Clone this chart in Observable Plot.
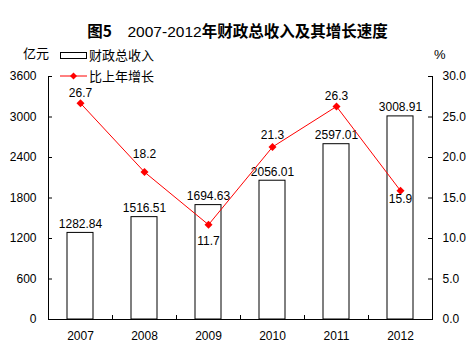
<!DOCTYPE html>
<html><head><meta charset="utf-8">
<script src="https://cdn.jsdelivr.net/npm/d3@7"></script>
<script src="https://cdn.jsdelivr.net/npm/@observablehq/plot@0.6"></script>
<style>
body{margin:0;background:#fff;}
#wrap{position:relative;width:475px;height:356px;font-family:"Liberation Sans","Noto Sans CJK SC",sans-serif;color:#000;overflow:hidden;background:#fff;}
.abs{position:absolute;white-space:nowrap;z-index:2;}
#title{left:0;width:475px;top:21px;text-align:center;font-size:15.5px;line-height:18px;}
#title b{font-family:"Noto Sans CJK SC",sans-serif;font-weight:bold;}
#chart{position:absolute;left:0;top:44px;z-index:1;}
.lg{font-size:13px;line-height:18px;font-family:"Noto Sans CJK SC",sans-serif;}
</style></head>
<body>
<div id="wrap">
  <div id="chart"></div>
  <div id="title" class="abs"><b>图5</b>　2007-2012<b>年财政总收入及其增长速度</b></div>
  <div class="abs lg" style="left:23px;top:44px;">亿元</div>
  <div class="abs lg" style="left:434px;top:46px;font-family:'Liberation Sans',sans-serif;">%</div>
  <div class="abs" style="left:60px;top:52px;width:27px;height:7px;border:1px solid #000;box-sizing:border-box;background:#fff;"></div>
  <div class="abs lg" style="left:89px;top:46px;">财政总收入</div>
  <svg class="abs" style="left:60px;top:71px;" width="28" height="10"><line x1="0" x2="27" y1="5" y2="5" stroke="#ff0000"/><path d="M13.5,1.5L17,5L13.5,8.5L10,5Z" fill="#ff0000"/></svg>
  <div class="abs lg" style="left:89px;top:67px;">比上年增长</div>
</div>
<script>
const years = ["2007","2008","2009","2010","2011","2012"];
const revenue = [1282.84, 1516.51, 1694.63, 2056.01, 2597.01, 3008.91];
const growth = [26.7, 18.2, 11.7, 21.3, 26.3, 15.9];
const leftTicks = [0, 600, 1200, 1800, 2400, 3000, 3600];
const rightTicks = [0, 5, 10, 15, 20, 25, 30];

const W = 475, H = 312, mL = 48, mR = 43, mT = 32, mB = 37;
const innerW = W - mL - mR, innerH = H - mT - mB;
const step = innerW / years.length;
const k = 3600 / 30; // percent -> left-axis units
const data = years.map((y, i) => ({year: y, rev: revenue[i], pct: growth[i]}));
const lineLabelDy = {"2007": -10, "2008": -18, "2009": 16, "2010": -12, "2011": -10, "2012": 8};

const chart = Plot.plot({
  width: W, height: H,
  marginLeft: mL, marginRight: mR, marginTop: mT, marginBottom: mB,
  style: {fontFamily: "'Liberation Sans', 'Noto Sans CJK SC', sans-serif", fontSize: "12px", color: "#000", background: "transparent"},
  x: {domain: years, paddingInner: 0.6, paddingOuter: 0.3},
  y: {domain: [0, 3600]},
  marks: [
    Plot.barY(data, {x: "year", y: "rev", fill: "#fff", stroke: "#000", strokeWidth: 1}),
    Plot.frame({anchor: "left", stroke: "#000"}),
    Plot.frame({anchor: "right", stroke: "#000"}),
    Plot.ruleY([0], {stroke: "#000"}),
    Plot.tickY(leftTicks, {y: d => d, insetRight: innerW - 4, stroke: "#000"}),
    Plot.tickY(rightTicks, {y: d => d * k, insetLeft: innerW - 4, stroke: "#000"}),
    Plot.tickX(years.slice(1), {x: d => d, dx: -step / 2, insetTop: innerH - 4, stroke: "#000"}),
    Plot.axisY({ticks: leftTicks, tickSize: 0, tickPadding: 12, label: null, anchor: "left", tickFormat: d => String(d)}),
    Plot.axisY({ticks: rightTicks.map(d => d * k), tickSize: 0, tickPadding: 10, label: null, anchor: "right", tickFormat: d => (d / k).toFixed(1)}),
    Plot.axisX({tickSize: 0, tickPadding: 12, label: null}),
    Plot.text(data, {x: "year", y: "rev", text: d => d.rev.toFixed(2), lineAnchor: "bottom", dy: -5, fill: "#000"}),
    Plot.line(data, {x: "year", y: d => d.pct * k, stroke: "#ff0000", strokeWidth: 1}),
    Plot.dot(data, {x: "year", y: d => d.pct * k, symbol: "diamond2", r: 3.6, fill: "#ff0000", stroke: "none"}),
    ...years.map(yr => Plot.text(data.filter(d => d.year === yr), {x: "year", y: d => d.pct * k, text: d => d.pct.toFixed(1), lineAnchor: "middle", dy: lineLabelDy[yr], fill: "#000"}))
  ]
});
document.getElementById("chart").appendChild(chart);
</script>
</body></html>
